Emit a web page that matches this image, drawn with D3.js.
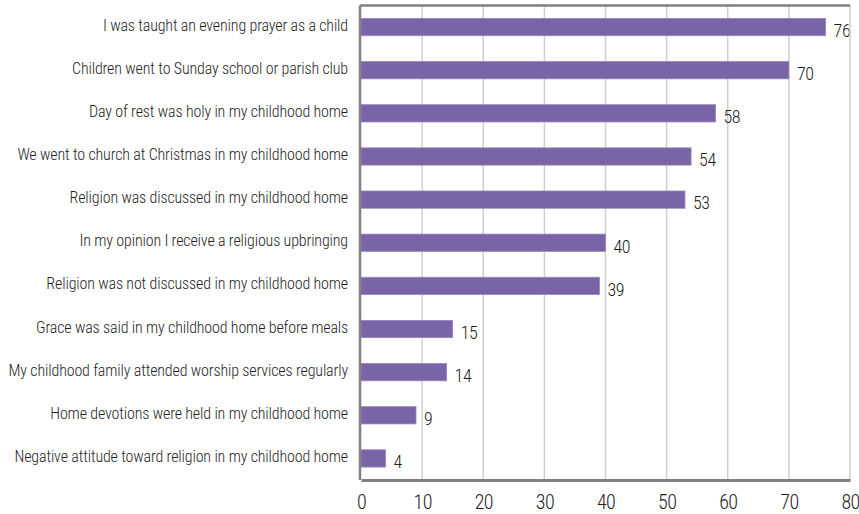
<!DOCTYPE html>
<html>
<head>
<meta charset="utf-8">
<script src="https://cdn.jsdelivr.net/npm/d3@7"></script>
<style>
  html, body { margin: 0; padding: 0; background: #fff; }
  svg { display: block; }
  text { font-family: "Roboto Condensed", "Liberation Sans Narrow", "DejaVu Sans Condensed", sans-serif; fill: #1e1e1e; }
</style>
</head>
<body>
<svg id="chart" width="859" height="514"></svg>
<script>
// Survey items about religious upbringing, in display order (top to bottom)
const categories = [
  "I was taught an evening prayer as a child",
  "Children went to Sunday school or parish club",
  "Day of rest was holy in my childhood home",
  "We went to church at Christmas in my childhood home",
  "Religion was discussed in my childhood home",
  "In my opinion I receive a religious upbringing",
  "Religion was not discussed in my childhood home",
  "Grace was said in my childhood home before meals",
  "My childhood family attended worship services regularly",
  "Home devotions were held in my childhood home",
  "Negative attitude toward religion in my childhood home"
];
const values = [76, 70, 58, 54, 53, 40, 39, 15, 14, 9, 4];
const xTicks = [0, 10, 20, 30, 40, 50, 60, 70, 80];

const FONT = "\"Roboto Condensed\", \"Liberation Sans Narrow\", \"DejaVu Sans Condensed\", sans-serif";
const svg = d3.select("#chart");
const margin = { left: 361, right: 9, top: 5.5, bottom: 34 };
const W = 859, H = 514;
const plotLeft = margin.left, plotRight = W - margin.right;
const plotTop = margin.top, plotBottom = H - margin.bottom;

const x = d3.scaleLinear().domain([0, 80]).range([plotLeft, plotRight]);
const y = d3.scaleBand().domain(categories).range([plotTop, plotBottom]).paddingInner(0.6).paddingOuter(0.3);

// vertical gridlines
svg.append("g")
  .selectAll("line")
  .data(xTicks.filter(t => t > 0 && t < 80))
  .join("line")
  .attr("x1", d => x(d)).attr("x2", d => x(d))
  .attr("y1", plotTop).attr("y2", plotBottom)
  .attr("stroke", "#cfcfcf").attr("stroke-width", 1.5);

// bars
svg.append("g")
  .selectAll("rect")
  .data(values)
  .join("rect")
  .attr("x", x(0))
  .attr("y", (d, i) => y(categories[i]))
  .attr("width", d => x(d) - x(0))
  .attr("height", y.bandwidth())
  .attr("fill", "#7a64a8")
  .attr("stroke", "#9583bd")
  .attr("stroke-width", 0.8);

// value labels
svg.append("g")
  .selectAll("text")
  .data(values)
  .join("text")
  .attr("x", d => x(d) + 8)
  .attr("y", (d, i) => y(categories[i]) + y.bandwidth() / 2 + 3.5)
  .attr("dy", "0.35em")
  .attr("font-size", 18)
  .attr("font-weight", 300)
  .attr("letter-spacing", "-0.4px")
  .text(d => d);

// category labels
svg.append("g")
  .selectAll("text")
  .data(categories)
  .join("text")
  .attr("x", 348)
  .attr("y", d => y(d) + y.bandwidth() / 2 - 2)
  .attr("dy", "0.35em")
  .attr("text-anchor", "end")
  .attr("font-size", 16)
  .attr("font-weight", 300)
  .attr("letter-spacing", "-0.15px")
  .text(d => d);

// frame: light right edge, dark top, left and bottom
svg.append("line")
  .attr("x1", plotRight).attr("x2", plotRight)
  .attr("y1", plotTop).attr("y2", plotBottom)
  .attr("stroke", "#cfcfcf").attr("stroke-width", 1.5);
svg.append("line")
  .attr("x1", plotLeft - 1).attr("x2", plotRight)
  .attr("y1", plotTop).attr("y2", plotTop)
  .attr("stroke", "#808080").attr("stroke-width", 2.5);
svg.append("line")
  .attr("x1", plotLeft - 1).attr("x2", plotLeft - 1)
  .attr("y1", plotTop).attr("y2", plotBottom)
  .attr("stroke", "#808080").attr("stroke-width", 2.5);

// x axis
const xAxis = d3.axisBottom(x).tickValues(xTicks).tickSize(0).tickPadding(15);
const gx = svg.append("g")
  .attr("transform", `translate(0,${plotBottom})`)
  .call(xAxis);
gx.select(".domain").attr("stroke", "#808080").attr("stroke-width", 3);
gx.selectAll("text")
  .attr("font-size", 20)
  .attr("font-weight", 300)
  .attr("letter-spacing", "-0.6px")
  .attr("font-family", FONT)
  .attr("fill", "#1e1e1e");
</script>
</body>
</html>
